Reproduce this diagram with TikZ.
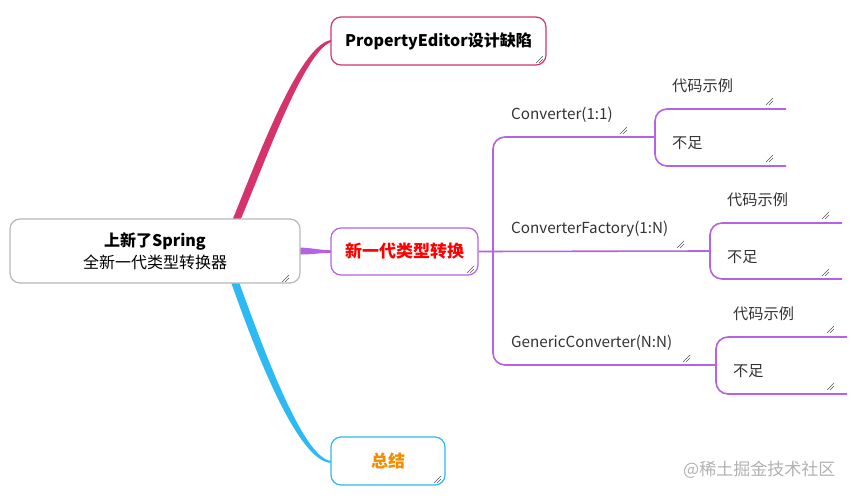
\documentclass[tikz,border=0pt]{standalone}
\usepackage{fontspec}
\setmainfont{Noto Sans CJK SC}
\definecolor{crim}{HTML}{D6336C}
\definecolor{purp}{HTML}{B562E4}
\definecolor{skyb}{HTML}{2DB9F2}
\definecolor{orng}{HTML}{F28C00}
\definecolor{labgray}{HTML}{333333}
\definecolor{gripc}{HTML}{555555}
\begin{document}
\begin{tikzpicture}[x=1pt,y=-1pt,
  box/.style={draw, rounded corners=10pt, line width=1.2pt, fill=white, inner sep=0pt, align=center},
  lab/.style={anchor=west, inner sep=0pt, text=labgray, font=\fontsize{15.2}{17}\selectfont},
  branch/.style={draw=purp, line width=1.6pt, rounded corners=12pt}]
\useasboundingbox[fill=white] (0,0) rectangle (861,500);
\newcommand\grip[2]{\draw[gripc, line width=0.5pt] (#1-7,#2) -- (#1,#2-7) (#1-4,#2) -- (#1,#2-4);}

% tapered main connectors
\fill[crim] (232,221) .. controls (257,160) and (299,45) .. (331,40) -- (331,42) .. controls (304,52) and (266,160) .. (240,221) -- cycle;
\fill[skyb] (231,282) .. controls (253,345) and (297,462) .. (331,462.8) -- (331,460.8) .. controls (303,459) and (262,345) .. (239,282) -- cycle;
\fill[purp] (300,247.5) .. controls (312,248) and (320,250) .. (331,250.3) -- (331,252.7) .. controls (320,253) and (312,254.5) .. (300,254.5) -- cycle;

% main nodes
\node[box, draw=black!28, minimum width=290pt, minimum height=64pt, font=\fontsize{16}{22}\selectfont] (root) at (155,251) {\textbf{上新了Spring}\\全新一代类型转换器};
\node[box, draw=crim, minimum width=215pt, minimum height=48pt, font=\bfseries\fontsize{16}{20}\selectfont] (pe) at (438.5,41) {PropertyEditor设计缺陷};
\node[box, draw=purp, minimum width=147pt, minimum height=47pt, font=\bfseries\fontsize{17}{20}\selectfont, text=red] (xin) at (404.5,251.5) {\raisebox{-3pt}{新一代类型转换}};
\node[box, draw=skyb, minimum width=114pt, minimum height=48pt, font=\bfseries\fontsize{17}{20}\selectfont, text=orng] (zj) at (388,461) {\raisebox{-3pt}{总结}};

% labels
\node[lab] (c1) at (511,115) {Converter(1:1)};
\node[lab] (c2) at (511,229) {ConverterFactory(1:N)};
\node[lab] (c3) at (511,343) {GenericConverter(N:N)};
\node[lab] (d1) at (672,86) {代码示例};
\node[lab] (b1) at (672,143) {不足};
\node[lab] (d2) at (727,200) {代码示例};
\node[lab] (b2) at (727,257) {不足};
\node[lab] (d3) at (733,314) {代码示例};
\node[lab] (b3) at (733,371) {不足};

% branch coordinates
\coordinate (j1) at (655,137);
\coordinate (j2) at (710,251);
\coordinate (j3) at (716,365);

% purple branches
\draw[branch, rounded corners=0pt] (xin.east) -- (j2);
\draw[branch] (j1) -- (493,137) -- (493,365) -- (j3);
\draw[branch] (786,109) -- (j1 |- 0,109) -- (j1 |- 0,166) -- (786,166);
\draw[branch] (842,223) -- (j2 |- 0,223) -- (j2 |- 0,279) -- (842,279);
\draw[branch] (847,337) -- (j3 |- 0,337) -- (j3 |- 0,394) -- (847,394);

% grips
\grip{289}{282}
\grip{543}{63}
\grip{474}{273}
\grip{441}{483}
\grip{627}{134}
\grip{773}{105}
\grip{773}{162}
\grip{684}{248}
\grip{829}{219}
\grip{829}{276}
\grip{690}{362}
\grip{834}{333}
\grip{834}{390}

% watermark
\node[anchor=west, inner sep=0pt, text=black!30, font=\fontsize{17}{20}\selectfont] (wm) at (683,470) {@稀土掘金技术社区};
\end{tikzpicture}
\end{document}
